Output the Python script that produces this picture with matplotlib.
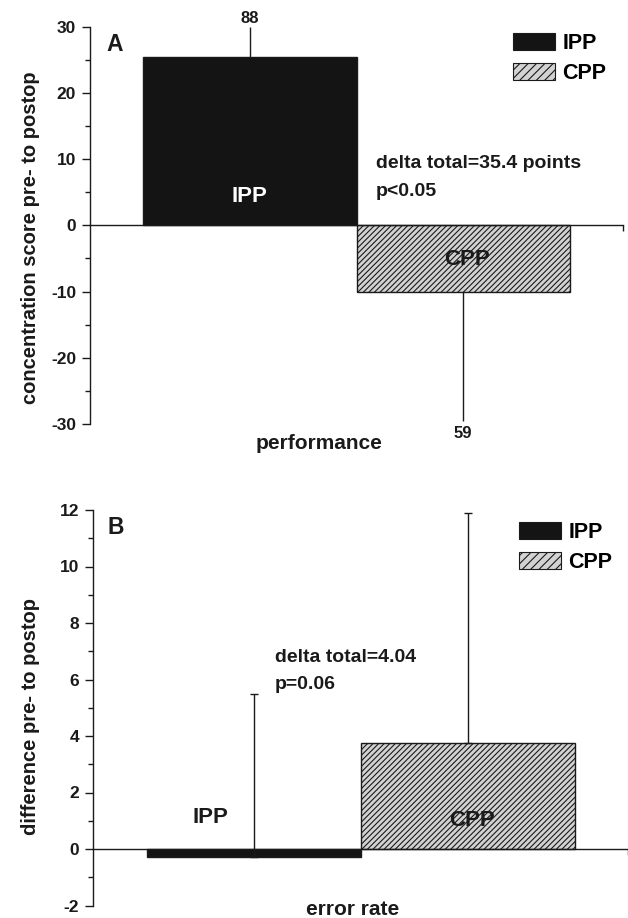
import matplotlib
matplotlib.use("Agg")
import matplotlib.pyplot as plt
from matplotlib.patches import Patch
from matplotlib.ticker import MultipleLocator, FixedLocator

plt.rcParams['font.family'] = ['Liberation Sans Narrow', 'Liberation Sans', 'DejaVu Sans']
plt.rcParams['font.weight'] = 'bold'
plt.rcParams['axes.unicode_minus'] = False
plt.rcParams['hatch.linewidth'] = 0.8
plt.rcParams['hatch.color'] = '#222222'

# ---------------- data ----------------
groups = ["IPP", "CPP"]

# Panel A: concentration score (performance)
perf_means = [25.4, -10.05]
perf_err_up = [4.6, 0.0]
perf_err_down = [0.0, 19.55]
perf_n = ["88", "59"]
perf_stats = "delta total=35.4 points\np<0.05"

# Panel B: error rate
err_means = [-0.27, 3.76]
err_err_up = [5.75, 8.14]
err_err_down = [0.0, 0.0]
err_stats = "delta total=4.04\np=0.06"

fill_colors = ["#141414", "#d2d2d2"]
hatches = [None, "//////"]

W, H = 628, 918
fig = plt.figure(figsize=(W / 100, H / 100), dpi=100)
TXT = "#1a1a1a"

def make_axes(left_px, right_px, top_px, bottom_px):
    return fig.add_axes([left_px / W, 1 - bottom_px / H,
                         (right_px - left_px) / W, (bottom_px - top_px) / H])

def style_axes(ax, ylim, major, minor, right_tick):
    ax.set_xlim(-0.75, 1.75)
    ax.set_ylim(*ylim)
    for s in ["top", "right"]:
        ax.spines[s].set_visible(False)
    ax.spines["bottom"].set_position(("data", 0))
    for s in ["left", "bottom"]:
        ax.spines[s].set_linewidth(1.0)
        ax.spines[s].set_color(TXT)
    ax.yaxis.set_major_locator(MultipleLocator(major))
    ax.yaxis.set_minor_locator(MultipleLocator(minor))
    ax.tick_params(axis="y", which="major", direction="out", length=6, width=1.0,
                   labelsize=12.5, pad=4, colors=TXT)
    ax.tick_params(axis="y", which="minor", direction="out", length=3.5, width=1.0,
                   colors=TXT)
    ax.xaxis.set_major_locator(FixedLocator([right_tick]))
    ax.tick_params(axis="x", which="major", direction="out", length=4, width=1.0,
                   labelbottom=False, colors=TXT)
    ax.xaxis.set_minor_locator(FixedLocator([]))
    for lab in ax.get_yticklabels():
        lab.set_fontweight("bold")

def draw_bars(ax, means, up, down, capsize):
    x = list(range(len(groups)))
    bars = ax.bar(x, means, width=1.0, color=fill_colors, edgecolor=TXT,
                  linewidth=1.0, zorder=2)
    for b, h in zip(bars, hatches):
        if h:
            b.set_hatch(h)
    ax.errorbar(x, means, yerr=[down, up], fmt="none", ecolor=TXT,
                elinewidth=1.0, capsize=capsize, capthick=1.0, zorder=3)
    return bars

def add_legend(ax, left_px, top_px):
    handles = [Patch(facecolor=fill_colors[0], edgecolor=TXT, linewidth=0.8),
               Patch(facecolor=fill_colors[1], edgecolor=TXT, linewidth=0.8, hatch="////")]
    ax.legend(handles, groups, loc="upper left",
              bbox_to_anchor=(left_px / W, 1 - top_px / H),
              bbox_transform=fig.transFigure, frameon=False,
              prop={"size": 15.5, "weight": "bold"}, handlelength=1.95,
              handleheight=0.8, handletextpad=0.35, labelspacing=0.42,
              borderpad=0, borderaxespad=0)

# ---------------- Panel A ----------------
axA = make_axes(90, 623, 26.7, 424)
style_axes(axA, (-30, 30), 10, 5, 1.75)
draw_bars(axA, perf_means, perf_err_up, perf_err_down, capsize=0)
axA.annotate(perf_n[0], (0, perf_means[0] + perf_err_up[0]), xytext=(0, 0.5),
             textcoords="offset points", ha="center", va="bottom", fontsize=12,
             fontweight="bold", color=TXT)
axA.annotate(perf_n[1], (1, perf_means[1] - perf_err_down[1]), xytext=(0, -3),
             textcoords="offset points", ha="center", va="top", fontsize=12,
             fontweight="bold", color=TXT)
axA.text(0, 4.3, groups[0], ha="center", va="center", fontsize=16,
         fontweight="bold", color="white", zorder=4)
axA.text(1.02, -5.1, groups[1], ha="center", va="center", fontsize=16,
         fontweight="bold", color=TXT, zorder=4)
axA.text(0.59, 7.2, perf_stats, ha="left", va="center", fontsize=14,
         fontweight="bold", color=TXT, linespacing=1.8)
axA.text(0.03, 0.985, "A", transform=axA.transAxes, ha="left", va="top",
         fontsize=16.5, fontweight="bold", color=TXT)
axA.set_ylabel("concentration score pre- to postop", fontsize=14.5,
               fontweight="bold", color=TXT)
axA.yaxis.set_label_coords(-0.094, 0.468)
axA.text(0.43, -0.05, "performance", transform=axA.transAxes, ha="center",
         va="center", fontsize=15, fontweight="bold", color=TXT)
add_legend(axA, 513, 33)

# ---------------- Panel B ----------------
axB = make_axes(93, 628, 510, 905.5)
style_axes(axB, (-2, 12), 2, 1, 1.7499)
draw_bars(axB, err_means, err_err_up, err_err_down, capsize=3)
axB.text(-0.2, 1.1, groups[0], ha="center", va="center", fontsize=16,
         fontweight="bold", color=TXT, zorder=4)
axB.text(1.02, 1.0, groups[1], ha="center", va="center", fontsize=16,
         fontweight="bold", color=TXT, zorder=4)
axB.text(0.10, 6.3, err_stats, ha="left", va="center", fontsize=14,
         fontweight="bold", color=TXT, linespacing=1.7)
axB.text(0.028, 0.985, "B", transform=axB.transAxes, ha="left", va="top",
         fontsize=16.5, fontweight="bold", color=TXT)
axB.set_ylabel("difference pre- to postop", fontsize=14.5,
               fontweight="bold", color=TXT)
axB.yaxis.set_label_coords(-0.099, 0.479)
axB.text(0.485, -0.01, "error rate", transform=axB.transAxes, ha="center",
         va="center", fontsize=15, fontweight="bold", color=TXT)
add_legend(axB, 519, 522)

fig.savefig("out.png", dpi=100)
